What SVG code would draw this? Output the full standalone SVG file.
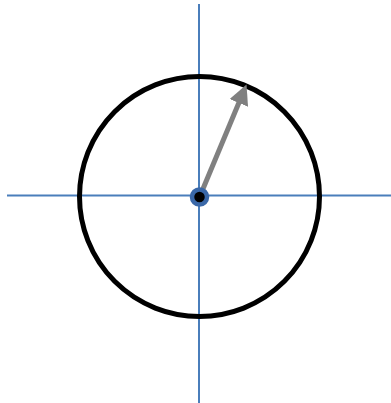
<svg xmlns="http://www.w3.org/2000/svg" width="391" height="403" viewBox="0 0 391 403">
<style>
.axis{stroke:#4A7EBB;stroke-width:2;fill:none}
</style>
<defs>
<marker id="ah" markerWidth="4" markerHeight="4" refX="1.5" refY="2" orient="auto" markerUnits="strokeWidth">
<path d="M0,0 L4,2 L0,4 Z" fill="#808080"/>
</marker>
</defs>
<rect width="391" height="403" fill="#fff"/>
<g id="connectors">
<line class="axis" x1="7" y1="195.5" x2="391" y2="195.5"/>
<line class="axis" x1="199" y1="4" x2="199" y2="403"/>
</g>
<g id="circle">
<circle cx="199.5" cy="196.5" r="120" fill="none" stroke="#000" stroke-width="5"/>
</g>
<g id="vector">
<line x1="200" y1="196" x2="241.7" y2="96" stroke="#808080" stroke-width="5" marker-end="url(#ah)"/>
</g>
<g id="origin">
<circle cx="199.5" cy="197" r="7.5" fill="#000" stroke="#3A68A8" stroke-width="4.5"/>
</g>
</svg>
